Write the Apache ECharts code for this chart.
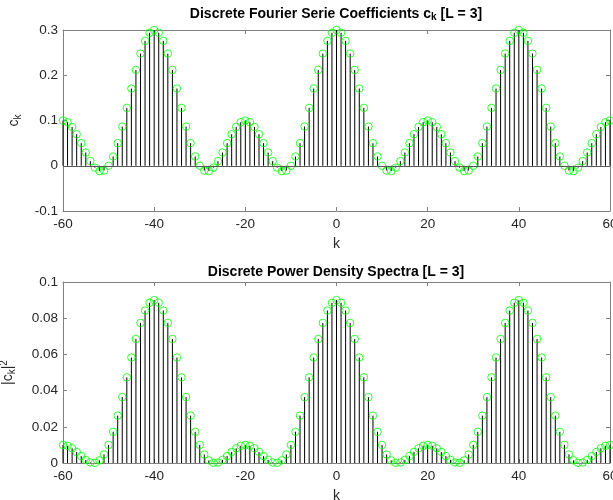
<!DOCTYPE html>
<html>
<head>
<meta charset="utf-8">
<script src="https://cdn.jsdelivr.net/npm/echarts@6/dist/echarts.min.js"></script>
<style>
html,body{margin:0;padding:0;background:#fff;}
#chart{width:613px;height:500px;}
</style>
</head>
<body>
<div id="chart"></div>
<script>
// k = -60 .. 60
var kValues = [-60,-59,-58,-57,-56,-55,-54,-53,-52,-51,-50,-49,-48,-47,-46,-45,-44,-43,-42,-41,-40,-39,-38,-37,-36,-35,-34,-33,-32,-31,-30,-29,-28,-27,-26,-25,-24,-23,-22,-21,-20,-19,-18,-17,-16,-15,-14,-13,-12,-11,-10,-9,-8,-7,-6,-5,-4,-3,-2,-1,0,1,2,3,4,5,6,7,8,9,10,11,12,13,14,15,16,17,18,19,20,21,22,23,24,25,26,27,28,29,30,31,32,33,34,35,36,37,38,39,40,41,42,43,44,45,46,47,48,49,50,51,52,53,54,55,56,57,58,59,60];

// Fourier series coefficients c_k
var ckValues = [
0.1,0.0963,0.0858,0.0697,0.05,0.0293,0.0103,-0.0042,-0.0118,-0.0107,0,0.0205,0.05,0.0866,0.1279,0.1707,0.2118,0.2479,0.276,0.2939,0.3,
0.2939,0.276,0.2479,0.2118,0.1707,0.1279,0.0866,0.05,0.0205,0,-0.0107,-0.0118,-0.0042,0.0103,0.0293,0.05,0.0697,0.0858,0.0963,0.1,
0.0963,0.0858,0.0697,0.05,0.0293,0.0103,-0.0042,-0.0118,-0.0107,0,0.0205,0.05,0.0866,0.1279,0.1707,0.2118,0.2479,0.276,0.2939,0.3,
0.2939,0.276,0.2479,0.2118,0.1707,0.1279,0.0866,0.05,0.0205,0,-0.0107,-0.0118,-0.0042,0.0103,0.0293,0.05,0.0697,0.0858,0.0963,0.1,
0.0963,0.0858,0.0697,0.05,0.0293,0.0103,-0.0042,-0.0118,-0.0107,0,0.0205,0.05,0.0866,0.1279,0.1707,0.2118,0.2479,0.276,0.2939,0.3,
0.2939,0.276,0.2479,0.2118,0.1707,0.1279,0.0866,0.05,0.0205,0,-0.0107,-0.0118,-0.0042,0.0103,0.0293,0.05,0.0697,0.0858,0.0963,0.1
];

// Power density spectrum |c_k|^2
var powerValues = [
0.01,0.00951,0.00814,0.00612,0.00382,0.00172,0.00031,0.00008,0.00146,0.00472,0.01,0.01724,0.02618,0.0364,0.04733,0.05828,0.06854,0.0774,0.08422,0.08853,0.09,
0.08853,0.08422,0.0774,0.06854,0.05828,0.04733,0.0364,0.02618,0.01724,0.01,0.00472,0.00146,0.00008,0.00031,0.00172,0.00382,0.00612,0.00814,0.00951,0.01,
0.00951,0.00814,0.00612,0.00382,0.00172,0.00031,0.00008,0.00146,0.00472,0.01,0.01724,0.02618,0.0364,0.04733,0.05828,0.06854,0.0774,0.08422,0.08853,0.09,
0.08853,0.08422,0.0774,0.06854,0.05828,0.04733,0.0364,0.02618,0.01724,0.01,0.00472,0.00146,0.00008,0.00031,0.00172,0.00382,0.00612,0.00814,0.00951,0.01,
0.00951,0.00814,0.00612,0.00382,0.00172,0.00031,0.00008,0.00146,0.00472,0.01,0.01724,0.02618,0.0364,0.04733,0.05828,0.06854,0.0774,0.08422,0.08853,0.09,
0.08853,0.08422,0.0774,0.06854,0.05828,0.04733,0.0364,0.02618,0.01724,0.01,0.00472,0.00146,0.00008,0.00031,0.00172,0.00382,0.00612,0.00814,0.00951,0.01
];

var xTicks = [-60,-40,-20,0,20,40,60];
var topTitle = '{a|Discrete Fourier Serie Coefficients c}{s|k}{a| [L = 3]}';
var bottomTitle = '{a|Discrete Power Density Spectra [L = 3]}';

var FONT = '"Liberation Sans", Arial, Helvetica, sans-serif';
var AX = '#808080';
var TXT = '#262626';
var TICKFS = 13.5;

function pairs(vals){ return kValues.map(function(k,i){ return [k, vals[i]]; }); }

function stemRender(params, api){
  var x = api.value(0), y = api.value(1);
  var p0 = api.coord([x, 0]);
  var p1 = api.coord([x, y]);
  return {type:'line', shape:{x1:p0[0], y1:p0[1], x2:p1[0], y2:p1[1]},
          style:{stroke:'#000', lineWidth:1}};
}

function xAxisMain(gi){
  return {type:'value', gridIndex:gi, position:'bottom', min:-60, max:60, interval:20,
    axisLine:{show:true, onZero:false, lineStyle:{color:AX, width:1}},
    axisTick:{show:true, inside:true, length:4, lineStyle:{color:AX}},
    splitLine:{show:false},
    axisLabel:{show:true, color:TXT, fontFamily:FONT, fontSize:TICKFS, margin:6, hideOverlap:false,
      formatter:function(v){ return xTicks.indexOf(v) >= 0 ? String(v) : ''; }},
    name:'k', nameLocation:'middle', nameGap:26,
    nameTextStyle:{color:TXT, fontFamily:FONT, fontSize:14}};
}
function xAxisTop(gi){
  return {type:'value', gridIndex:gi, position:'top', min:-60, max:60, interval:20,
    axisLine:{show:true, onZero:false, lineStyle:{color:AX, width:1}},
    axisTick:{show:true, inside:true, length:4, lineStyle:{color:AX}},
    axisLabel:{show:false}, splitLine:{show:false}};
}
function yAxisMain(gi, min, max, interval, name, nameGap, fmt){
  return {type:'value', gridIndex:gi, position:'left', min:min, max:max, interval:interval,
    axisLine:{show:true, onZero:false, lineStyle:{color:AX, width:1}},
    axisTick:{show:true, inside:true, length:4, lineStyle:{color:AX}},
    splitLine:{show:false},
    axisLabel:{show:true, color:TXT, fontFamily:FONT, fontSize:TICKFS, margin:5, formatter:fmt},
    name:name, nameLocation:'middle', nameGap:nameGap, nameRotate:90,
    nameTextStyle:{color:TXT, fontFamily:FONT, fontSize:14,
      rich:{a:{fontFamily:FONT, fontSize:14, color:TXT, lineHeight:18},
            s:{fontFamily:FONT, fontSize:10, color:TXT, lineHeight:9, verticalAlign:'bottom'},
            p:{fontFamily:FONT, fontSize:10, color:TXT, lineHeight:9, verticalAlign:'top'}}}};
}
function yAxisRight(gi, min, max, interval){
  return {type:'value', gridIndex:gi, position:'right', min:min, max:max, interval:interval,
    axisLine:{show:true, onZero:false, lineStyle:{color:AX, width:1}},
    axisTick:{show:true, inside:true, length:4, lineStyle:{color:AX}},
    axisLabel:{show:false}, splitLine:{show:false}};
}

var titleRich = {a:{fontFamily:FONT, fontSize:14, fontWeight:'bold', color:'#000', lineHeight:16},
                 s:{fontFamily:FONT, fontSize:10, fontWeight:'bold', color:'#000', lineHeight:9, verticalAlign:'bottom'}};

var chart = echarts.init(document.getElementById('chart'), null, {renderer:'canvas'});
chart.setOption({
  animation:false,
  backgroundColor:'#fff',
  title:[
    {text:topTitle, left:336, top:6, padding:0, textAlign:'center', textStyle:{rich:titleRich}},
    {text:bottomTitle, left:336, top:264, padding:0, textAlign:'center', textStyle:{rich:titleRich}}
  ],
  grid:[
    {left:63, top:30, width:547, height:181, containLabel:false, outerBoundsMode:'none'},
    {left:63, top:282, width:547, height:181, containLabel:false, outerBoundsMode:'none'}
  ],
  xAxis:[xAxisMain(0), xAxisTop(0), xAxisMain(1), xAxisTop(1)],
  yAxis:[
    yAxisMain(0, -0.1, 0.3, 0.1, '{a|c}{s|k}', 40, function(v){ return String(Math.round(v*10)/10); }),
    yAxisRight(0, -0.1, 0.3, 0.1),
    yAxisMain(1, 0, 0.1, 0.02, '{a||c}{s|k}{a||}{p|2}', 46, function(v){ return String(Math.round(v*100)/100); }),
    yAxisRight(1, 0, 0.1, 0.02)
  ],
  series:[
    {type:'custom', xAxisIndex:0, yAxisIndex:0, data:pairs(ckValues), renderItem:stemRender, silent:true,
     markLine:{silent:true, symbol:'none', label:{show:false}, animation:false,
       lineStyle:{color:'#595959', type:'solid', width:1}, data:[{yAxis:0}]}},
    {type:'scatter', xAxisIndex:0, yAxisIndex:0, data:pairs(ckValues), symbol:'circle', symbolSize:7.5, clip:false,
     itemStyle:{color:'rgba(0,0,0,0)', borderColor:'#00ff00', borderWidth:1}},
    {type:'custom', xAxisIndex:2, yAxisIndex:2, data:pairs(powerValues), renderItem:stemRender, silent:true},
    {type:'scatter', xAxisIndex:2, yAxisIndex:2, data:pairs(powerValues), symbol:'circle', symbolSize:7.5, clip:false,
     itemStyle:{color:'rgba(0,0,0,0)', borderColor:'#00ff00', borderWidth:1}}
  ]
});
</script>
</body>
</html>
